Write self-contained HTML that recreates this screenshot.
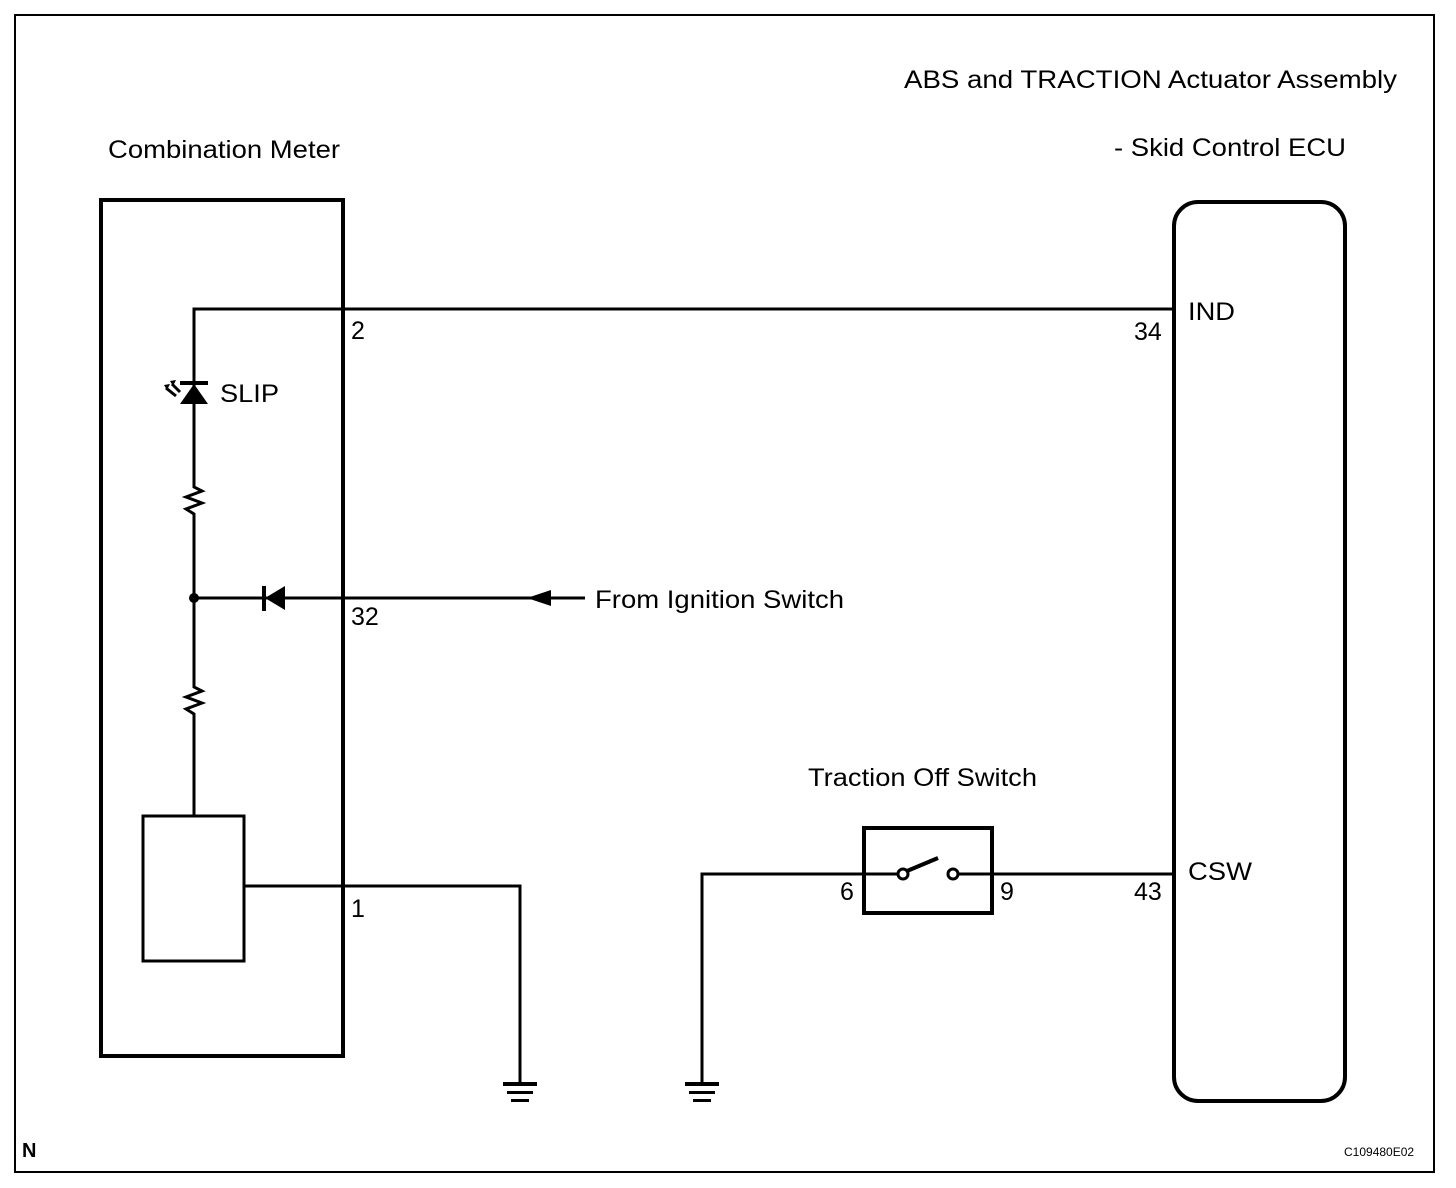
<!DOCTYPE html>
<html><head><style>body{margin:0;background:#fff}svg{display:block}text{font-family:"Liberation Sans",Arial,sans-serif;font-size:25px;fill:#000}</style></head><body>
<svg width="1456" height="1188" viewBox="0 0 1456 1188">
<rect x="15" y="15" width="1419" height="1157" fill="none" stroke="#000" stroke-width="2"/>
<text x="904" y="88" textLength="493" lengthAdjust="spacingAndGlyphs">ABS and TRACTION Actuator Assembly</text>
<text x="1114" y="156" textLength="232" lengthAdjust="spacingAndGlyphs">- Skid Control ECU</text>
<text x="108" y="158" textLength="232" lengthAdjust="spacingAndGlyphs">Combination Meter</text>
<rect x="101" y="200" width="242" height="856" fill="none" stroke="#000" stroke-width="4"/>
<rect x="1174" y="202" width="171" height="899" rx="24" fill="none" stroke="#000" stroke-width="4"/>
<g stroke="#000" stroke-width="3" fill="none">
<polyline points="1174,309 194,309 194,486"/>
<polyline points="194,516 194,686"/>
<polyline points="194,716 194,816"/>
<polyline points="194,484 194,487 202,491 186,497 202,503 186,509 194,514 194,518"/>
<polyline points="194,684 194,687 202,691 186,697 202,703 186,709 194,714 194,718"/>
<line x1="194" y1="598" x2="585" y2="598"/>
<polyline points="244,886 520,886 520,1083"/>
<polyline points="863,874 702,874 702,1083"/>
<line x1="992" y1="874" x2="1174" y2="874"/>
<line x1="863" y1="874" x2="898" y2="874"/>
<line x1="957" y1="874" x2="992" y2="874"/>
<rect x="864" y="828" width="128" height="85" stroke-width="4"/>
<line x1="907" y1="871" x2="938" y2="858" stroke-width="4"/>
</g>
<circle cx="903" cy="874" r="5" fill="#fff" stroke="#000" stroke-width="3"/>
<circle cx="953" cy="874" r="5" fill="#fff" stroke="#000" stroke-width="3"/>
<rect x="143" y="816" width="101" height="145" fill="none" stroke="#000" stroke-width="3"/>
<polygon points="180,404 208,404 194,384" fill="#000"/>
<rect x="180" y="381" width="28" height="4" fill="#000"/>
<g stroke="#000" stroke-width="3"><line x1="166" y1="388" x2="176" y2="396"/><line x1="172" y1="384" x2="180" y2="392"/></g>
<polygon points="164,385 170,384 167,390" fill="#000"/><polygon points="170,381 176,380 173,386" fill="#000"/>
<text x="220" y="402" textLength="59" lengthAdjust="spacingAndGlyphs">SLIP</text>
<circle cx="194" cy="598" r="5" fill="#000"/>
<polygon points="265,598 285,586 285,610" fill="#000"/>
<rect x="262" y="586" width="4" height="25" fill="#000"/>
<polygon points="527,598 551,590 551,606" fill="#000"/>
<text x="595" y="608" textLength="249" lengthAdjust="spacingAndGlyphs">From Ignition Switch</text>
<text x="351" y="339">2</text>
<text x="351" y="625">32</text>
<text x="351" y="917">1</text>
<text x="1134" y="340">34</text>
<text x="1188" y="320" textLength="47" lengthAdjust="spacingAndGlyphs">IND</text>
<text x="1134" y="900">43</text>
<text x="1188" y="880" textLength="64" lengthAdjust="spacingAndGlyphs">CSW</text>
<text x="840" y="900">6</text>
<text x="1000" y="900">9</text>
<text x="808" y="786" textLength="229" lengthAdjust="spacingAndGlyphs">Traction Off Switch</text>
<g fill="#000">
<rect x="503" y="1082" width="34" height="4"/><rect x="507" y="1091" width="26" height="3"/><rect x="511" y="1099" width="18" height="3"/>
<rect x="685" y="1082" width="34" height="4"/><rect x="689" y="1091" width="26" height="3"/><rect x="693" y="1099" width="18" height="3"/>
</g>
<text x="22" y="1157" style="font-size:20px;font-weight:bold">N</text>
<text x="1344" y="1156" style="font-size:12px">C109480E02</text>
</svg>
</body></html>
